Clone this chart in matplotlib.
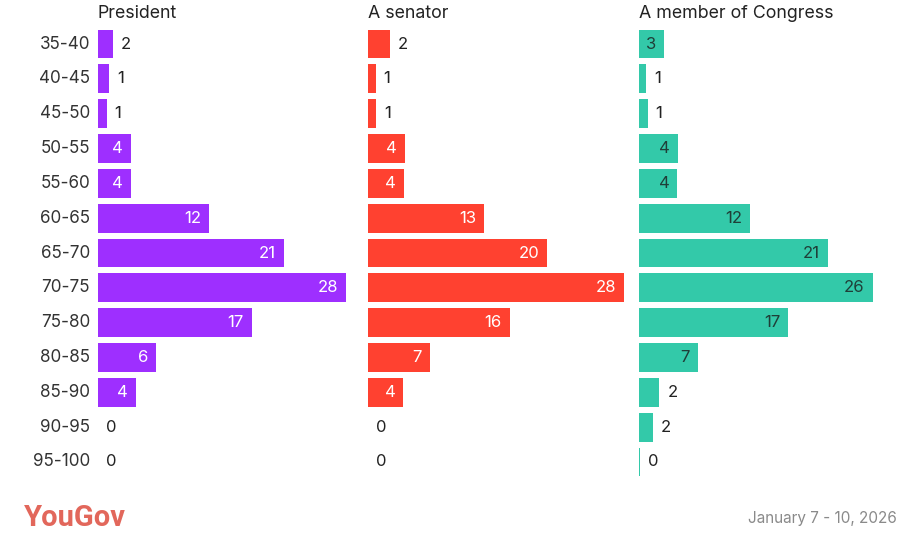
import matplotlib
matplotlib.use("Agg")
import matplotlib.pyplot as plt

plt.rcParams['font.family'] = ['Inter', 'DejaVu Sans']

categories = ["35-40", "40-45", "45-50", "50-55", "55-60", "60-65", "65-70",
              "70-75", "75-80", "80-85", "85-90", "90-95", "95-100"]
panel_titles = ["President", "A senator", "A member of Congress"]
president = [1.7, 1.3, 1.0, 3.7, 3.7, 12.4, 20.7, 27.6, 17.1, 6.5, 4.2, 0.0, 0.0]
senator = [2.4, 0.8, 0.9, 4.1, 4.0, 12.9, 19.9, 28.4, 15.7, 6.8, 3.9, 0.0, 0.0]
congress = [2.8, 0.8, 1.0, 4.4, 4.3, 12.4, 21.0, 26.0, 16.6, 6.6, 2.3, 1.6, 0.1]
series = [president, senator, congress]
colors = ["#9E2FFF", "#FF4130", "#33C9A9"]
inside_text = ["white", "white", "#1F3F38"]
footer_left = "YouGov"
footer_right = "January 7 - 10, 2026"

W, H = 900, 559
fig = plt.figure(figsize=(W / 100, H / 100), dpi=100)

px_per_unit = 9.0
panel_x = [97.7, 368.3, 638.7]
panel_w = 262
top, bottom = 26.6, 479.4
n = len(categories)

for k, (vals, col) in enumerate(zip(series, colors)):
    ax = fig.add_axes([panel_x[k] / W, 1 - bottom / H, panel_w / W, (bottom - top) / H])
    ax.barh(range(n), vals, height=0.83, color=col, edgecolor="none")
    ax.set_xlim(0, panel_w / px_per_unit)
    ax.set_ylim(n - 0.5, -0.5)
    ax.axis("off")
    pad = 8 / px_per_unit
    for i, v in enumerate(vals):
        lab = f"{round(v):d}"
        if v >= 2.6:
            ax.text(v - pad, i, lab, ha="right", va="center", fontsize=12,
                    color=inside_text[k])
        else:
            ax.text(v + pad, i, lab, ha="left", va="center", fontsize=12,
                    color="#222222")
    fig.text(panel_x[k] / W, 1 - 13 / H, panel_titles[k], ha="left", va="center",
             fontsize=12.8, color="#222222")
    if k == 0:
        for i, c in enumerate(categories):
            yc = top + (i + 0.5) * (bottom - top) / n
            fig.text(90 / W, 1 - yc / H, c, ha="right", va="center",
                     fontsize=12.3, color="#333333")

fig.text(24 / W, 1 - 518 / H, footer_left, ha="left", va="center", fontsize=21,
         fontweight="bold", color="#E2675B", family=["Roboto", "DejaVu Sans"])
fig.text(897 / W, 1 - 518 / H, footer_right, ha="right", va="center",
         fontsize=11, color="#8A8A8A")

fig.savefig("out.png", dpi=100, facecolor="white")
